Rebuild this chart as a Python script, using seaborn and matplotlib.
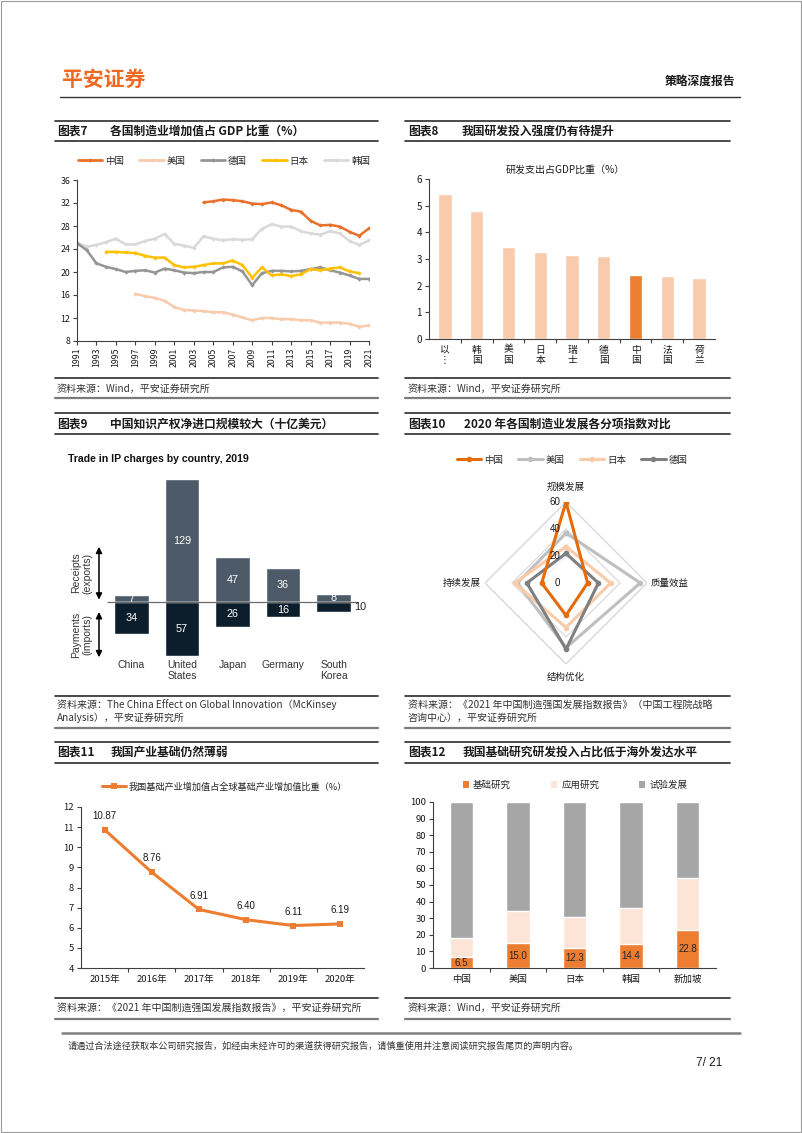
import numpy as np
import pandas as pd
import matplotlib
matplotlib.use("Agg")
import matplotlib.pyplot as plt
import seaborn as sns
from matplotlib.lines import Line2D
from matplotlib.patches import Patch, Rectangle

# ---------------- data: 图表7 制造业增加值占GDP比重 ----------------
cn_years = list(range(2004, 2022))
cn_mfg = [32.1, 32.3, 32.6, 32.5, 32.3, 31.9, 31.8, 32.1, 31.6, 30.8, 30.5,
          28.9, 28.1, 28.2, 27.9, 27.0, 26.3, 27.6]
us_years = list(range(1997, 2022))
us_mfg = [16.2, 15.8, 15.5, 15.0, 13.9, 13.4, 13.3, 13.2, 13.0, 13.0, 12.6,
          12.1, 11.6, 12.0, 12.0, 11.8, 11.8, 11.6, 11.6, 11.2, 11.2, 11.2,
          11.0, 10.5, 10.7]
de_years = list(range(1991, 2022))
de_mfg = [25.0, 23.8, 21.5, 20.9, 20.5, 20.0, 20.2, 20.3, 19.9, 20.6, 20.3,
          19.9, 19.8, 20.0, 20.0, 20.8, 20.9, 20.1, 17.7, 19.8, 20.2, 20.2,
          20.1, 20.2, 20.5, 20.8, 20.3, 19.9, 19.4, 18.8, 18.8]
jp_years = list(range(1994, 2021))
jp_mfg = [23.5, 23.5, 23.4, 23.3, 22.8, 22.5, 22.5, 21.2, 20.8, 20.9, 21.2,
          21.5, 21.5, 22.0, 21.2, 19.0, 20.8, 19.4, 19.6, 19.3, 19.6, 20.5,
          20.3, 20.6, 20.8, 20.1, 19.8]
kr_years = list(range(1991, 2022))
kr_mfg = [25.1, 24.4, 24.7, 25.2, 25.8, 24.8, 24.8, 25.4, 25.8, 26.6, 24.9,
          24.6, 24.2, 26.2, 25.8, 25.5, 25.7, 25.6, 25.7, 27.5, 28.3, 27.9,
          27.9, 27.1, 26.7, 26.5, 27.1, 26.7, 25.4, 24.7, 25.5]
mfg_names = ["中国", "美国", "德国", "日本", "韩国"]
mfg_year_ticks = list(range(1991, 2022, 2))
mfg_y_ticks = list(range(8, 37, 4))

# ---------------- data: 图表8 研发支出占GDP比重 ----------------
rd_countries = ["以色列", "韩国", "美国", "日本", "瑞士", "德国", "中国", "法国", "荷兰"]
rd_ticklabels = ["以\n⋮", "韩\n国", "美\n国", "日\n本", "瑞\n士", "德\n国", "中\n国", "法\n国", "荷\n兰"]
rd_values = [5.44, 4.81, 3.45, 3.26, 3.15, 3.11, 2.40, 2.35, 2.28]

# ---------------- data: 图表9 IP charges ----------------
ip_countries = ["China", "United States", "Japan", "Germany", "South Korea"]
ip_ticklabels = ["China", "United\nStates", "Japan", "Germany", "South\nKorea"]
ip_receipts = [7, 129, 47, 36, 8]
ip_payments = [34, 57, 26, 16, 10]

# ---------------- data: 图表10 雷达 ----------------
radar_dims = ["规模发展", "质量效益", "结构优化", "持续发展"]
radar_names = ["中国", "美国", "日本", "德国"]
radar_cn = [60, 16, 24, 18]
radar_us = [37, 55, 48, 36]
radar_jp = [27, 33, 33, 38]
radar_de = [22, 24, 49, 29]
radar_ticks = [0, 20, 40, 60]

# ---------------- data: 图表11 ----------------
basic_years = ["2015年", "2016年", "2017年", "2018年", "2019年", "2020年"]
basic_share = [10.87, 8.76, 6.91, 6.40, 6.11, 6.19]

# ---------------- data: 图表12 ----------------
rs_countries = ["中国", "美国", "日本", "韩国", "新加坡"]
rs_basic = [6.5, 15.0, 12.3, 14.4, 22.8]
rs_applied = [11.4, 19.1, 18.4, 21.7, 31.6]
rs_experimental = [82.1, 65.9, 69.3, 63.9, 45.6]
rs_names = ["基础研究", "应用研究", "试验发展"]

# ---------------- style ----------------
sns.set_theme(style="ticks")
FAM = ["Noto Sans CJK SC", "DejaVu Sans"]
LAT = ["Liberation Sans", "Noto Sans CJK SC", "DejaVu Sans"]
plt.rcParams["font.family"] = FAM
plt.rcParams["axes.unicode_minus"] = False

W, H = 802, 1133
fig = plt.figure(figsize=(W / 100, H / 100), dpi=100)
fig.patch.set_facecolor("white")


def ax_at(l, t, r, b, **kw):
    return fig.add_axes([l / W, 1 - b / H, (r - l) / W, (b - t) / H], **kw)


def T(x, y, s, **kw):
    kw.setdefault("va", "center")
    kw.setdefault("color", "#1a1a1a")
    return fig.text(x / W, 1 - y / H, s, **kw)


def HL(x0, x1, y, lw=1.1, color="#333333"):
    fig.add_artist(Line2D([x0 / W, x1 / W], [1 - y / H, 1 - y / H],
                          transform=fig.transFigure, lw=lw, color=color))


def style_axes(ax, fs=6.5):
    for s in ["top", "right"]:
        ax.spines[s].set_visible(False)
    for s in ["left", "bottom"]:
        ax.spines[s].set_color("#404040")
        ax.spines[s].set_linewidth(0.8)
    ax.tick_params(axis="both", labelsize=fs, color="#404040", length=3,
                   width=0.8, direction="out", pad=2, labelcolor="#1a1a1a")
    ax.set_xlabel("")
    ax.set_ylabel("")
    ax.grid(False)
    ax.set_facecolor("none")


# page border
fig.add_artist(Rectangle((0.6 / W, 0.6 / H), 1 - 1.2 / W, 1 - 1.2 / H,
                         transform=fig.transFigure, fill=False,
                         edgecolor="#9a9a9a", lw=0.8))

# ---------------- header ----------------
T(62, 79, "平安证券", fontsize=15, fontweight="bold", color="#EE6A22", ha="left")
T(735, 81, "策略深度报告", fontsize=8.5, fontweight="bold", ha="right")
HL(60, 740, 97, lw=1.0, color="#333333")

# ---------------- title / source rules ----------------
LX0, LX1, RX0, RX1 = 55, 378, 405, 730
for (t, b) in [(121, 141), (413, 434), (742, 763)]:
    for (x0, x1) in [(LX0, LX1), (RX0, RX1)]:
        HL(x0, x1, t, lw=1.2, color="#2b2b2b")
        HL(x0, x1, b, lw=1.2, color="#2b2b2b")
for (t, b) in [(378, 398), (696, 728), (998, 1019)]:
    for (x0, x1) in [(LX0, LX1), (RX0, RX1)]:
        HL(x0, x1, t, lw=1.2, color="#2b2b2b")
        HL(x0, x1, b, lw=1.6, color="#7a7a7a")

tkw = dict(fontsize=8.5, fontweight="bold", ha="left")
T(57, 131, "图表7", **tkw)
T(110, 131, "各国制造业增加值占 GDP 比重（%）", **tkw)
T(408, 131, "图表8", **tkw)
T(462, 131, "我国研发投入强度仍有待提升", **tkw)
T(57, 424, "图表9", **tkw)
T(110, 424, "中国知识产权净进口规模较大（十亿美元）", **tkw)
T(408, 424, "图表10", **tkw)
T(464, 424, "2020 年各国制造业发展各分项指数对比", **tkw)
T(57, 752, "图表11", **tkw)
T(111, 752, "我国产业基础仍然薄弱", **tkw)
T(408, 752, "图表12", **tkw)
T(463, 752, "我国基础研究研发投入占比低于海外发达水平", **tkw)

skw = dict(fontsize=7.2, style="italic", ha="left", color="#333333")
T(57, 389, "资料来源：Wind，平安证券研究所", **skw)
T(408, 389, "资料来源：Wind，平安证券研究所", **skw)
T(57, 705, "资料来源：The China Effect on Global Innovation（McKinsey", **skw)
T(57, 718, "Analysis），平安证券研究所", **skw)
T(408, 705, "资料来源：《2021 年中国制造强国发展指数报告》（中国工程院战略", **skw)
T(408, 718, "咨询中心），平安证券研究所", **skw)
T(57, 1008, "资料来源：《2021 年中国制造强国发展指数报告》，平安证券研究所", **skw)
T(408, 1008, "资料来源：Wind，平安证券研究所", **skw)

# footer
HL(62, 740, 1033, lw=1.8, color="#808080")
T(68, 1046, "请通过合法途径获取本公司研究报告，如经由未经许可的渠道获得研究报告，请慎重使用并注意阅读研究报告尾页的声明内容。",
  fontsize=6.6, ha="left", color="#333333")
T(722, 1063, "7/ 21", fontsize=8.5, ha="right", color="#1a1a1a", family=LAT)

# ================= 图表7 =================
mfg_colors = {"中国": "#E8702A", "美国": "#F8CBAD", "德国": "#959595",
              "日本": "#FFC000", "韩国": "#D9D9D9"}
rows = []
for name, ys, vs in [("中国", cn_years, cn_mfg), ("美国", us_years, us_mfg),
                     ("德国", de_years, de_mfg), ("日本", jp_years, jp_mfg),
                     ("韩国", kr_years, kr_mfg)]:
    for y, v in zip(ys, vs):
        rows.append({"country": name, "year": y, "value": v})
df7 = pd.DataFrame(rows)
ax7 = ax_at(77, 180, 369, 341)
draw_order = ["韩国", "美国", "德国", "日本", "中国"]
sns.lineplot(data=df7, x="year", y="value", hue="country", hue_order=draw_order,
             palette=mfg_colors, linewidth=1.8, marker="D", markersize=2.2,
             markeredgewidth=0, legend=False, ax=ax7)
ax7.set_xlim(1991, 2021)
ax7.set_ylim(8, 36)
ax7.set_xticks(mfg_year_ticks)
ax7.set_xticklabels([str(y) for y in mfg_year_ticks], rotation=90)
ax7.set_yticks(mfg_y_ticks)
style_axes(ax7, fs=6.3)
h7 = [Line2D([0], [0], color=mfg_colors[n], lw=2, marker="D", ms=2.2, mew=0) for n in mfg_names]
fig.legend(h7, mfg_names, loc="center", bbox_to_anchor=(224 / W, 1 - 161 / H),
           ncol=5, frameon=False, fontsize=6.8, handlelength=2.6,
           columnspacing=1.6, handletextpad=0.3)

# ================= 图表8 =================
ax8 = ax_at(429, 179, 715, 339)
rd_colors = ["#ED7D31" if c == "中国" else "#F8CBAD" for c in rd_countries]
sns.barplot(x=rd_countries, y=rd_values, hue=rd_countries, palette=rd_colors,
            legend=False, saturation=1, width=0.42, errorbar=None, ax=ax8)
ax8.set_xlim(-0.5, len(rd_countries) - 0.5)
ax8.set_ylim(0, 6)
ax8.set_yticks(range(0, 7))
ax8.set_xticks(range(len(rd_countries)))
ax8.set_xticklabels(rd_ticklabels, linespacing=1.0)
style_axes(ax8, fs=7.0)
ax8.tick_params(axis="x", length=0, pad=4)
ax8.set_xticks(np.arange(0.5, len(rd_countries) - 0.5, 1), minor=True)
ax8.tick_params(axis="x", which="minor", length=3, width=0.8, color="#404040")
T(565, 170, "研发支出占GDP比重（%）", fontsize=7.2, ha="center")

# ================= 图表9 =================
ax9 = ax_at(60, 470, 380, 690)
sns.barplot(x=ip_countries, y=ip_receipts, color="#4D5B68", saturation=1,
            width=0.69, errorbar=None, ax=ax9)
sns.barplot(x=ip_countries, y=[-p for p in ip_payments], color="#0C1E2C",
            saturation=1, width=0.69, errorbar=None, ax=ax9)
ax9.set_xlim(-1.416, 4.92)
ax9.set_ylim(-92.3, 138.5)
ax9.axis("off")
ax9.hlines(0, -0.49, 4.49, color="#6a6a6a", lw=0.9)
for i, (r, p) in enumerate(zip(ip_receipts, ip_payments)):
    ax9.text(i, r / 2, str(r), ha="center", va="center", color="white",
             fontsize=7.8, family=LAT)
    if p < 12:
        ax9.text(i + 0.40, -p / 2, str(p), ha="left", va="center",
                 color="#222222", fontsize=7.8, family=LAT)
    else:
        ax9.text(i, -p / 2, str(p), ha="center", va="center", color="white",
                 fontsize=7.8, family=LAT)
    ax9.text(i, -61, ip_ticklabels[i], ha="center", va="top", fontsize=7.5,
             color="#333333", family=LAT, linespacing=1.15)
ax9.annotate("", xy=(-0.644, 2.5), xytext=(-0.644, 58),
             arrowprops=dict(arrowstyle="<|-|>,head_length=0.3,head_width=0.15",
                             color="black", lw=1.1, shrinkA=0, shrinkB=0))
ax9.annotate("", xy=(-0.644, -58), xytext=(-0.644, -10.5),
             arrowprops=dict(arrowstyle="<|-|>,head_length=0.3,head_width=0.15",
                             color="black", lw=1.1, shrinkA=0, shrinkB=0))
ax9.text(-0.98, 30.5, "Receipts\n(exports)", rotation=90, ha="center", va="center",
         fontsize=7.5, color="#333333", family=LAT, linespacing=1.1)
ax9.text(-0.98, -34.5, "Payments\n(imports)", rotation=90, ha="center", va="center",
         fontsize=7.5, color="#333333", family=LAT, linespacing=1.1)
T(68, 459, "Trade in IP charges by country, 2019", fontsize=7.6,
  fontweight="bold", ha="left", family=LAT, color="#111111")

# ================= 图表10 雷达 =================
cx, cy, rad = 566, 583, 81
axr = ax_at(cx - rad, cy - rad, cx + rad, cy + rad, projection="polar")
axr.set_theta_offset(np.pi / 2)
axr.set_theta_direction(-1)
axr.set_ylim(0, 60)
angles = np.linspace(0, 2 * np.pi, len(radar_dims), endpoint=False)
closed = np.concatenate([angles, angles[:1]])
for r, c in [(20, "#EEF1F5"), (40, "#DADADA"), (60, "#D6D6D6")]:
    axr.plot(closed, [r] * len(closed), color=c, lw=0.9, zorder=1)
radar_colors = {"中国": "#E46C0A", "美国": "#BFBFBF", "日本": "#F9CBA9", "德国": "#7F7F7F"}
radar_vals = {"中国": radar_cn, "美国": radar_us, "日本": radar_jp, "德国": radar_de}
for n in ["美国", "日本", "德国", "中国"]:
    v = radar_vals[n]
    axr.plot(closed, v + v[:1], color=radar_colors[n], lw=2.2, marker="o",
             ms=3, zorder=3)
axr.set_xticks([])
axr.set_yticks([])
axr.grid(False)
axr.spines["polar"].set_visible(False)
axr.patch.set_alpha(0)
for t in radar_ticks:
    axr.annotate(str(t), xy=(0, t), xytext=(-4, 0), textcoords="offset points",
                 ha="right", va="center", fontsize=7, color="#1a1a1a",
                 family=LAT, annotation_clip=False)
T(566, 487, radar_dims[0], fontsize=6.8, ha="center")
T(670, 583, radar_dims[1], fontsize=6.8, ha="center")
T(566, 677, radar_dims[2], fontsize=6.8, ha="center")
T(462, 583, radar_dims[3], fontsize=6.8, ha="center")
hr = [Line2D([0], [0], color=radar_colors[n], lw=2.2, marker="o", ms=3) for n in radar_names]
fig.legend(hr, radar_names, loc="center", bbox_to_anchor=(572 / W, 1 - 460 / H),
           ncol=4, frameon=False, fontsize=6.8, handlelength=2.6,
           columnspacing=1.6, handletextpad=0.3)

# ================= 图表11 =================
ax11 = ax_at(81, 807, 364, 968)
x11 = list(range(len(basic_years)))
sns.lineplot(x=x11, y=basic_share, color="#ED7D31", linewidth=2.2, marker="s",
             markersize=5, markeredgewidth=0, ax=ax11)
ax11.set_xlim(-0.5, len(basic_years) - 0.5)
ax11.set_ylim(4, 12)
ax11.set_yticks(range(4, 13))
ax11.set_xticks(x11)
ax11.set_xticklabels(basic_years)
style_axes(ax11, fs=6.8)
ax11.tick_params(axis="x", length=0, pad=5)
ax11.set_xticks(np.arange(0.5, len(basic_years) - 0.5, 1), minor=True)
ax11.tick_params(axis="x", which="minor", length=3, width=0.8, color="#404040")
for i, v in zip(x11, basic_share):
    ax11.annotate(f"{v:.2f}", xy=(i, v), xytext=(0, 10), textcoords="offset points",
                  ha="center", va="center", fontsize=7, color="#1a1a1a", family=LAT)
h11 = [Line2D([0], [0], color="#ED7D31", lw=2.2, marker="s", ms=5, mew=0)]
fig.legend(h11, ["我国基础产业增加值占全球基础产业增加值比重（%）"], loc="center left",
           bbox_to_anchor=(94 / W, 1 - 787 / H), frameon=False, fontsize=6.6,
           handlelength=2.6, handletextpad=0.3)

# ================= 图表12 =================
ax12 = ax_at(433, 802, 716, 968)
rs_top = [b + a + e for b, a, e in zip(rs_basic, rs_applied, rs_experimental)]
rs_mid = [b + a for b, a in zip(rs_basic, rs_applied)]
rs_colors = ["#ED7D31", "#FCE4D6", "#A6A6A6"]
sns.barplot(x=rs_countries, y=rs_top, color=rs_colors[2], saturation=1,
            width=0.41, errorbar=None, ax=ax12)
sns.barplot(x=rs_countries, y=rs_mid, color=rs_colors[1], saturation=1,
            width=0.41, errorbar=None, ax=ax12)
sns.barplot(x=rs_countries, y=rs_basic, color=rs_colors[0], saturation=1,
            width=0.41, errorbar=None, ax=ax12)
ax12.set_xlim(-0.5, len(rs_countries) - 0.5)
ax12.set_ylim(0, 100)
ax12.set_yticks(range(0, 101, 10))
style_axes(ax12, fs=6.8)
ax12.tick_params(axis="x", length=0, pad=5)
ax12.set_xticks(np.arange(0.5, len(rs_countries) - 0.5, 1), minor=True)
ax12.tick_params(axis="x", which="minor", length=3, width=0.8, color="#404040")
for i, v in enumerate(rs_basic):
    ax12.text(i, v / 2, f"{v:.1f}", ha="center", va="center", fontsize=7,
              color="#262626", family=LAT)
h12 = [Patch(facecolor=c, edgecolor="none") for c in rs_colors]
fig.legend(h12, rs_names, loc="center", bbox_to_anchor=(575 / W, 1 - 785 / H),
           ncol=3, frameon=False, fontsize=6.8, handlelength=0.7, handleheight=0.7,
           columnspacing=4.2, handletextpad=0.4)

fig.savefig("out.png", dpi=100, facecolor="white")
